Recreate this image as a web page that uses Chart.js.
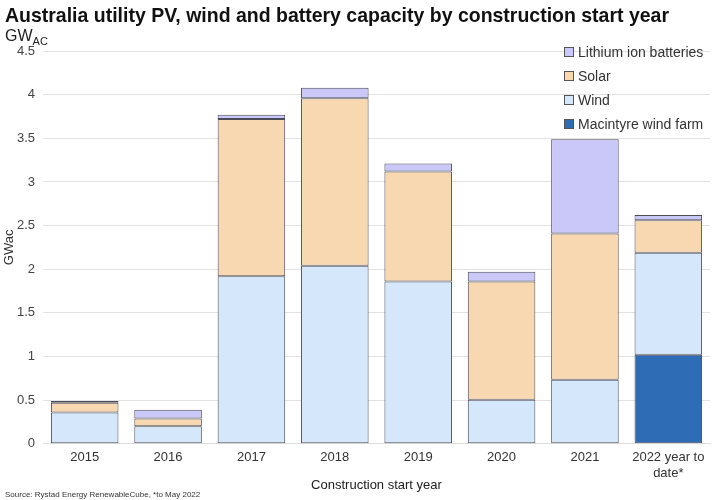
<!DOCTYPE html>
<html><head><meta charset="utf-8">
<script src="https://cdn.jsdelivr.net/npm/chart.js@4"></script>
<style>html,body{margin:0;padding:0;background:#fff}#wrap{width:726px;height:500px;position:relative}</style>
</head><body><div id="wrap"><canvas id="c" width="726" height="500"></canvas></div>
<script>
const categories = ["2015","2016","2017","2018","2019","2020","2021",["2022 year to","date*"]];
const macintyre = [null,null,null,null,null,null,null,1.02];
const wind = [0.36,0.20,1.92,2.04,1.86,0.505,0.735,1.17];
const solar = [0.11,0.09,1.80,1.92,1.26,1.355,1.675,0.37];
const batteries = [0.02,0.10,0.05,0.12,0.09,0.11,1.08,0.06];
const yTicks = [0,0.5,1,1.5,2,2.5,3,3.5,4,4.5];

const titleText = "Australia utility PV, wind and battery capacity by construction start year";
const xTitleText = "Construction start year";
const sourceText = "Source: Rystad Energy RenewableCube, *to May 2022";
const FONT = '"Liberation Sans", Arial, sans-serif';

const decor = {
  id:'decor',
  afterDraw(chart){
    const ctx = chart.ctx;
    const ca = chart.chartArea;
    ctx.save();
    ctx.fillStyle = '#111';
    ctx.textBaseline = 'alphabetic';
    ctx.textAlign = 'left';
    ctx.font = 'bold 21px ' + FONT;
    ctx.fillText(titleText, 5, 22, 664);
    ctx.fillStyle = '#222';
    ctx.font = '16px ' + FONT;
    ctx.fillText("GW", 5, 41);
    const w = ctx.measureText("GW").width;
    ctx.font = '11px ' + FONT;
    ctx.fillText("AC", 5 + w, 45);
    ctx.fillStyle = '#222';
    ctx.font = '13px ' + FONT;
    ctx.textAlign = 'center';
    ctx.textBaseline = 'middle';
    ctx.fillText(xTitleText, (ca.left + ca.right)/2, 485);
    ctx.textAlign = 'left';
    ctx.textBaseline = 'alphabetic';
    ctx.fillStyle = '#333';
    ctx.font = '8px ' + FONT;
    ctx.fillText(sourceText, 5, 497);
    // legend
    const items = chart.data.datasets.slice().reverse();
    ctx.font = '14px ' + FONT;
    ctx.textBaseline = 'middle';
    items.forEach((ds,i)=>{
      const y = 52 + i*24;
      ctx.fillStyle = ds.backgroundColor;
      ctx.fillRect(564, y-5, 9, 9);
      ctx.strokeStyle = '#555';
      ctx.lineWidth = 1;
      ctx.strokeRect(564.5, y-4.5, 9, 9);
      ctx.fillStyle = '#333';
      ctx.fillText(ds.label, 578, y+1);
    });
    ctx.restore();
  }
};

const border = '#4c4c58';
new Chart(document.getElementById('c'), {
  type:'bar',
  data:{
    labels: categories,
    datasets:[
      {label:'Macintyre wind farm', data: macintyre, backgroundColor:'#2e6db6', borderColor:border, borderWidth:1, borderSkipped:false},
      {label:'Wind', data: wind, backgroundColor:'#d5e8fb', borderColor:border, borderWidth:1, borderSkipped:false},
      {label:'Solar', data: solar, backgroundColor:'#f8d8b0', borderColor:border, borderWidth:1, borderSkipped:false},
      {label:'Lithium ion batteries', data: batteries, backgroundColor:'#c9c8f8', borderColor:border, borderWidth:1, borderSkipped:false}
    ]
  },
  options:{
    responsive:false, animation:false,
    layout:{padding:{top:51,right:16,bottom:13,left:2}},
    plugins:{legend:{display:false}, title:{display:false}, tooltip:{enabled:false}},
    datasets:{bar:{categoryPercentage:0.81, barPercentage:1}},
    scales:{
      x:{stacked:true,
        grid:{display:false, drawTicks:false},
        border:{display:true,color:'#ddd'},
        ticks:{color:'#333', font:{size:13, family:FONT}, padding:6, maxRotation:0},
        title:{display:false}
      },
      y:{stacked:true, min:0, max:4.5,
        afterBuildTicks(axis){ axis.ticks = yTicks.map(v=>({value:v})); },
        afterFit(axis){ axis.width = 41; },
        grid:{color:'#e2e2e2', drawTicks:false},
        border:{display:false},
        ticks:{color:'#444', font:{size:13, family:FONT}, padding:8, callback:(v)=>String(v)},
        title:{display:true, text:'GWac', color:'#333', font:{size:13, family:FONT}, padding:{top:0,bottom:2}}
      }
    }
  },
  plugins:[decor]
});
</script></body></html>
